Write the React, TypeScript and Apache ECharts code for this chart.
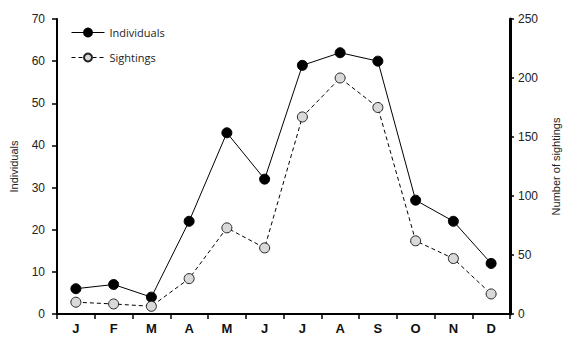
import React, { useEffect, useRef } from "react";
import * as echarts from "echarts";

const months = ["J", "F", "M", "A", "M", "J", "J", "A", "S", "O", "N", "D"];
const individuals = [6, 7, 4, 22, 43, 32, 59, 62, 60, 27, 22, 12];
const sightings = [10, 8.5, 6.5, 30, 73, 56, 167, 200, 175, 62, 47, 17];

export default function App() {
  const ref = useRef<HTMLDivElement>(null);
  useEffect(() => {
    const chart = echarts.init(ref.current!, null, { renderer: "svg" });
    const tickFont = { fontFamily: "Liberation Sans, Arial, sans-serif", fontSize: 12, color: "#222" };
    chart.setOption({
      animation: false,
      backgroundColor: "#fff",
      grid: { left: 57, right: 55, top: 19, bottom: 24 },
      legend: {
        orient: "vertical",
        left: 66,
        top: 22,
        itemWidth: 33,
        itemHeight: 10,
        itemGap: 14,
        lineStyle: { width: 1 },
        textStyle: { fontFamily: "Open Sans, Noto Sans, sans-serif", fontSize: 11, color: "#222" },
        data: ["Individuals", "Sightings"],
      },
      xAxis: {
        type: "category",
        data: months,
        boundaryGap: true,
        axisLine: { lineStyle: { color: "#000", width: 2 } },
        axisTick: { show: true, length: 5, inside: false, lineStyle: { color: "#000", width: 1.5 } },
        axisLabel: { ...tickFont, fontWeight: "bold", fontSize: 13, margin: 8, color: "#111" },
      },
      yAxis: [
        {
          type: "value",
          min: 0,
          max: 70,
          interval: 10,
          position: "left",
          name: "Individuals",
          nameLocation: "middle",
          nameRotate: 90,
          nameGap: 38,
          nameTextStyle: { fontFamily: "Liberation Sans, Arial, sans-serif", fontSize: 11, color: "#222" },
          splitLine: { show: false },
          axisLine: { show: true, lineStyle: { color: "#000", width: 2 } },
          axisTick: { show: true, length: 5, lineStyle: { color: "#000", width: 1.5 } },
          axisLabel: { ...tickFont, margin: 12 },
        },
        {
          type: "value",
          min: 0,
          max: 250,
          interval: 50,
          position: "right",
          name: "Number of sightings",
          nameLocation: "middle",
          nameRotate: 90,
          nameGap: 40,
          nameTextStyle: { fontFamily: "Liberation Sans, Arial, sans-serif", fontSize: 11, color: "#222" },
          splitLine: { show: false },
          axisLine: { show: true, lineStyle: { color: "#000", width: 3 } },
          axisTick: { show: true, length: 4, lineStyle: { color: "#000", width: 1.5 } },
          axisLabel: { ...tickFont, margin: 8 },
        },
      ],
      series: [
        {
          name: "Individuals",
          type: "line",
          yAxisIndex: 0,
          data: individuals,
          symbol: "circle",
          symbolSize: 10,
          lineStyle: { color: "#000", width: 1 },
          itemStyle: { color: "#000", borderColor: "#000", borderWidth: 1 },
        },
        {
          name: "Sightings",
          type: "line",
          yAxisIndex: 1,
          data: sightings,
          symbol: "circle",
          symbolSize: 10,
          lineStyle: { color: "#000", width: 1, type: [4, 3] },
          itemStyle: { color: "#d9d9d9", borderColor: "#222", borderWidth: 1 },
        },
      ],
    });
    return () => chart.dispose();
  }, []);
  return <div ref={ref} style={{ width: 569, height: 338, position: "absolute", left: 0, top: 0 }} />;
}
